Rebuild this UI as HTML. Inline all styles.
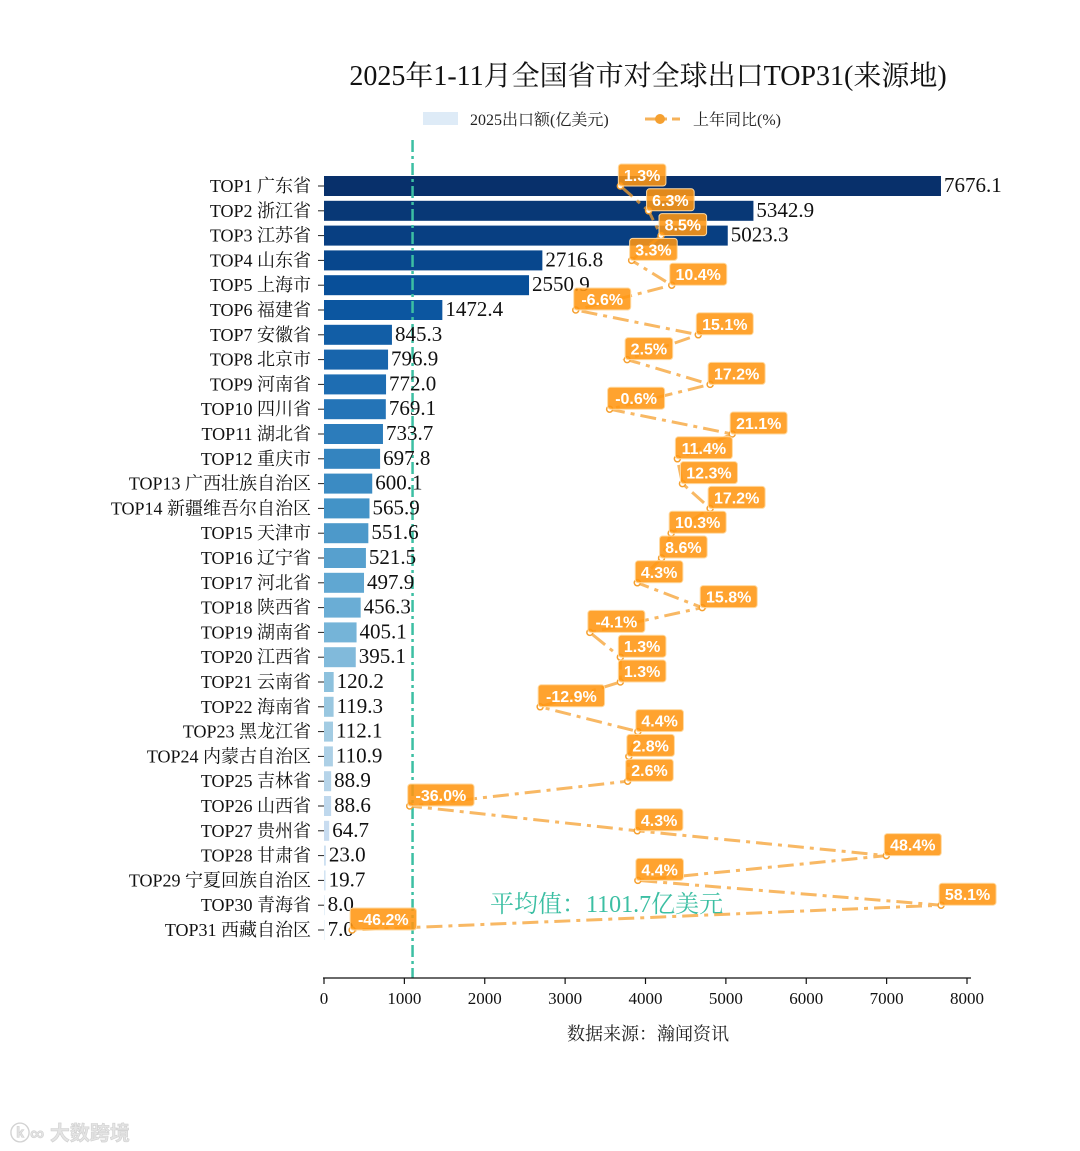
<!DOCTYPE html>
<html><head><meta charset="utf-8"><style>
body{margin:0;background:#fff;}
svg{display:block;}
text{font-family:"Liberation Serif","Noto Serif CJK SC",serif;}
.lbl{font-family:"Liberation Sans","Noto Sans CJK SC",sans-serif;font-weight:bold;}
</style></head><body>
<svg id="chart" width="1080" height="1151" viewBox="0 0 1080 1151" xmlns="http://www.w3.org/2000/svg">
<text x="648" y="85" text-anchor="middle" font-size="28" fill="#111">2025年1-11月全国省市对全球出口TOP31(来源地)</text>
<g>
<rect x="423" y="112" width="35" height="13" fill="#deebf7"/>
<text x="470" y="125" font-size="16" fill="#222">2025出口额(亿美元)</text>
<line x1="645" y1="119" x2="680" y2="119" stroke="#f5a030" stroke-width="3" stroke-dasharray="14,5,3,5" opacity="0.8"/>
<circle cx="660" cy="119" r="5" fill="#f5a030"/>
<text x="693" y="125" font-size="16" fill="#222">上年同比(%)</text>
</g>
<g id="bars"></g>
<g id="avg"></g>
<g id="line"></g>
<g id="axis"></g>
<text x="648" y="1040" text-anchor="middle" font-size="18" fill="#222">数据来源：瀚闻资讯</text>
<text x="10" y="1140" font-size="20" fill="#e4e4e4" stroke="#d0d0d0" stroke-width="0.6" class="lbl">ⓚ∞ 大数跨境</text>
</svg>
<script>
const categories=["TOP1 广东省","TOP2 浙江省","TOP3 江苏省","TOP4 山东省","TOP5 上海市","TOP6 福建省","TOP7 安徽省","TOP8 北京市","TOP9 河南省","TOP10 四川省","TOP11 湖北省","TOP12 重庆市","TOP13 广西壮族自治区","TOP14 新疆维吾尔自治区","TOP15 天津市","TOP16 辽宁省","TOP17 河北省","TOP18 陕西省","TOP19 湖南省","TOP20 江西省","TOP21 云南省","TOP22 海南省","TOP23 黑龙江省","TOP24 内蒙古自治区","TOP25 吉林省","TOP26 山西省","TOP27 贵州省","TOP28 甘肃省","TOP29 宁夏回族自治区","TOP30 青海省","TOP31 西藏自治区"];
const exportValues=[7676.1,5342.9,5023.3,2716.8,2550.9,1472.4,845.3,796.9,772.0,769.1,733.7,697.8,600.1,565.9,551.6,521.5,497.9,456.3,405.1,395.1,120.2,119.3,112.1,110.9,88.9,88.6,64.7,23.0,19.7,8.0,7.0];
const yoyValues=[1.3,6.3,8.5,3.3,10.4,-6.6,15.1,2.5,17.2,-0.6,21.1,11.4,12.3,17.2,10.3,8.6,4.3,15.8,-4.1,1.3,1.3,-12.9,4.4,2.8,2.6,-36.0,4.3,48.4,4.4,58.1,-46.2];
const xTicks=[0,1000,2000,3000,4000,5000,6000,7000,8000];
const average=1101.7;

const NS="http://www.w3.org/2000/svg";
const x=v=>324+v*643/8000;
const xy=v=>613+v*5.647;
const y=i=>186+i*24.8;
function mk(tag,attrs,parent){const e=document.createElementNS(NS,tag);for(const k in attrs)e.setAttribute(k,attrs[k]);parent.appendChild(e);return e;}
function blues(t){
 const stops=[[8,48,107],[8,81,156],[33,113,181],[66,146,198],[107,174,214],[158,202,225],[198,219,239],[222,235,247]];
 const p=t*(stops.length-1);const i=Math.min(Math.floor(p),stops.length-2);const f=p-i;
 const c=stops[i].map((s,k)=>Math.round(s+(stops[i+1][k]-s)*f));return `rgb(${c})`;}
const gb=document.getElementById('bars');
categories.forEach((c,i)=>{
 const r=mk('rect',{x:x(0),y:y(i)-10,width:x(exportValues[i])-x(0),height:20,fill:blues(i/(categories.length-1))},gb);
 
 
 const tk=mk('line',{x1:318,x2:324,y1:y(i),y2:y(i),stroke:'#222','stroke-width':1},gb);
 
 
 const t=mk('text',{x:311,y:y(i)+6,'text-anchor':'end','font-size':18,fill:'#111'},gb);t.textContent=c;
 
 
});
const ga=document.getElementById('avg');
const al=mk('line',{x1:x(average),x2:x(average),y1:140,y2:978,stroke:'#3cbfa3','stroke-width':2.5,'stroke-dasharray':'12,4,3,4'},ga);


const at=mk('text',{x:490,y:912,'font-size':24,fill:'#3cbfa3'},ga);at.textContent='平均值：'+average.toFixed(1)+'亿美元';


const gl=document.getElementById('line');
const pts=yoyValues.map((v,i)=>xy(v)+','+y(i)).join(' ');
const pl=mk('polyline',{points:pts,fill:'none',stroke:'#f5a030','stroke-width':3,'stroke-dasharray':'16,6,4,6',opacity:0.75},gl);


categories.forEach((c,i)=>{
 const t=mk('text',{x:x(exportValues[i])+3,y:y(i)+6,'font-size':21,fill:'#111'},gl);t.textContent=exportValues[i].toFixed(1);
 
 
});
yoyValues.forEach((v,i)=>{
 const px=xy(v),py=y(i);
 const m=mk('circle',{cx:px,cy:py,r:3,fill:'#fff',stroke:'#f5a030','stroke-width':1.5},gl);
 
 
 const s=v.toFixed(1)+'%';const w=s.length*9.4+10;
 const b=mk('rect',{x:px-2,y:py-22,width:w,height:22,rx:3,fill:'#ff9612','fill-opacity':0.88,stroke:'#ffd9a0','stroke-width':1},gl);
 
 
 const t=mk('text',{x:px-2+w/2,y:py-5,'text-anchor':'middle','font-size':16,fill:'#fff',class:'lbl'},gl);t.textContent=s;
 
 
});
const gx=document.getElementById('axis');
const ax=mk('line',{x1:323,x2:971,y1:978,y2:978,stroke:'#111','stroke-width':1.3},gx);


xTicks.forEach(v=>{
 const l=mk('line',{x1:x(v),x2:x(v),y1:978,y2:984,stroke:'#111','stroke-width':1.2},gx);
 
 
 const t=mk('text',{x:x(v),y:1004,'text-anchor':'middle','font-size':17,fill:'#111'},gx);t.textContent=v;
 
 
});
</script>
</body></html>
